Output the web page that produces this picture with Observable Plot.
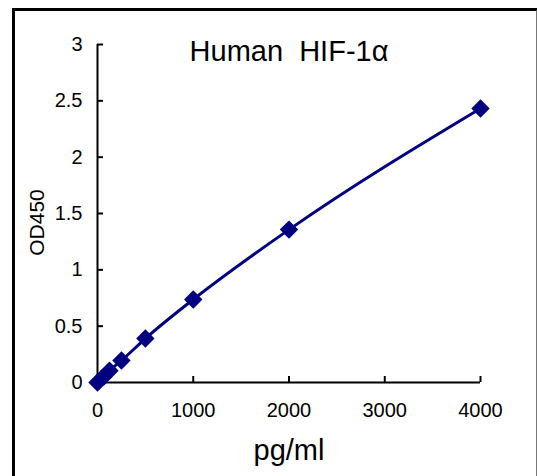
<!DOCTYPE html>
<html>
<head>
<meta charset="utf-8">
<script src="https://cdn.jsdelivr.net/npm/d3@7"></script>
<script src="https://cdn.jsdelivr.net/npm/@observablehq/plot@0.6"></script>
<style>
  html, body { margin: 0; padding: 0; background: white; }
  #wrap { position: relative; width: 537px; height: 476px; overflow: hidden; }
  #frame { position: absolute; left: 12px; top: 8px; width: 521px; height: 480px;
           border-left: 3px solid #000; border-top: 3px solid #000; border-right: 2px solid #777;
           pointer-events: none; z-index: 2; }
  svg { font-family: "Liberation Sans", Arial, sans-serif; }
</style>
</head>
<body>
<div id="wrap"><div id="frame"></div></div>
<script>
const conc = [0, 62.5, 125, 250, 500, 1000, 2000, 4000];
const od = [0.0, 0.05, 0.105, 0.195, 0.39, 0.737, 1.357, 2.432];
const xTicks = [0, 1000, 2000, 3000, 4000];
const yTicks = [0, 0.5, 1, 1.5, 2, 2.5, 3];
const xTickLabels = ["0", "1000", "2000", "3000", "4000"];
const yTickLabels = ["0", "0.5", "1", "1.5", "2", "2.5", "3"];
const title = "Human  HIF-1α";
const xLabel = "pg/ml";
const yLabel = "OD450";

const data = conc.map((c, i) => ({conc: c, od: od[i]}));
const navy = "#000080";

const chart = Plot.plot({
  width: 537,
  height: 476,
  marginLeft: 97,
  marginRight: 57,
  marginTop: 44,
  marginBottom: 94,
  style: {fontFamily: "'Liberation Sans', Arial, sans-serif", background: "white"},
  x: {domain: [0, 4000]},
  y: {domain: [0, 3]},
  marks: [
    Plot.ruleX([0], {stroke: "#000", strokeWidth: 2}),
    Plot.ruleY([0], {stroke: "#000", strokeWidth: 2}),
    Plot.axisX({ticks: xTicks, tickSize: -6, tickPadding: 0, strokeWidth: 2, label: null, tickFormat: () => "", stroke: "#000"}),
    Plot.axisY({ticks: yTicks, tickSize: -6, tickPadding: 0, strokeWidth: 2, label: null, tickFormat: () => "", stroke: "#000"}),
    Plot.text(xTicks, {x: d => d, y: 0, text: (d, i) => xTickLabels[i], dy: 28, lineAnchor: "middle", fontSize: 20, fill: "#000"}),
    Plot.text(yTicks, {x: 0, y: d => d, text: (d, i) => yTickLabels[i], dx: -15, textAnchor: "end", lineAnchor: "middle", fontSize: 20, fill: "#000"}),
    Plot.line(data, {x: "conc", y: "od", curve: "monotone-x", stroke: navy, strokeWidth: 3}),
    Plot.dot(data, {x: "conc", y: "od", symbol: "diamond2", r: 8.3, fill: navy, stroke: "none"}),
    Plot.text([title], {frameAnchor: "top", textAnchor: "middle", lineAnchor: "middle", dy: 7, fontSize: 29, fill: "#000"}),
    Plot.text([xLabel], {frameAnchor: "bottom", textAnchor: "middle", lineAnchor: "middle", dy: 68, fontSize: 29, fill: "#000"}),
    Plot.text([yLabel], {frameAnchor: "left", textAnchor: "middle", lineAnchor: "middle", dx: -60, dy: 9, rotate: -90, fontSize: 21, fill: "#000"})
  ]
});
chart.style.position = "absolute";
chart.style.left = "0px";
chart.style.top = "0px";
document.getElementById("wrap").appendChild(chart);
</script>
</body>
</html>
